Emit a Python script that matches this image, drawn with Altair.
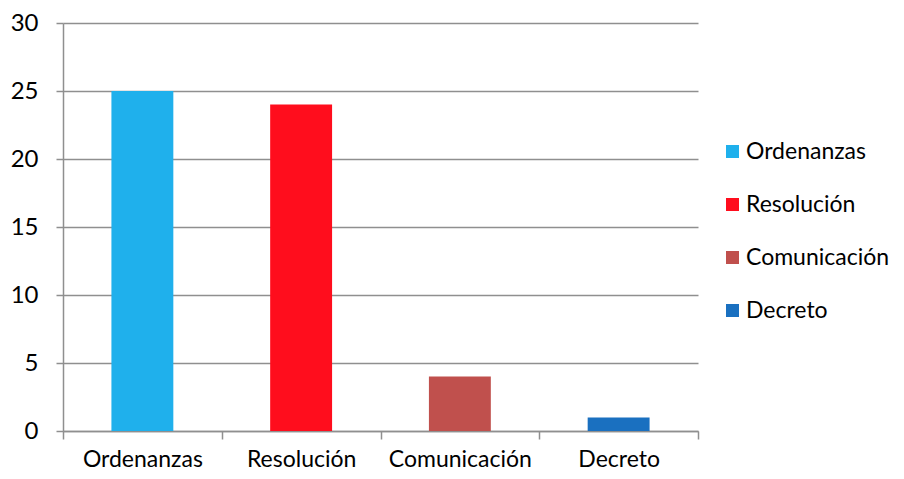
import altair as alt
import pandas as pd

categories = ["Ordenanzas", "Resolución", "Comunicación", "Decreto"]
values = [25, 24, 4, 1]
colors = ["#1FB0EC", "#FF0D1D", "#C0504D", "#1A70C0"]
y_ticks = [0, 5, 10, 15, 20, 25, 30]

df = pd.DataFrame({"Tipo": categories, "Cantidad": values})

FONT = "Lato"
GRID = "#8f8f8f"

bars = alt.Chart(df).mark_bar(width=alt.RelativeBandSize(0.39)).encode(
    x=alt.X(
        "Tipo:N",
        sort=categories,
        scale=alt.Scale(paddingInner=0, paddingOuter=0),
        axis=alt.Axis(
            title=None, labelAngle=0, tickBand="extent", grid=False,
            domainColor=GRID, domainWidth=1.5, tickColor=GRID, tickWidth=1.5,
            tickSize=8, labelPadding=9, labelFont=FONT, labelFontSize=23,
            labelColor="#000000",
        ),
    ),
    y=alt.Y(
        "Cantidad:Q",
        scale=alt.Scale(domain=[0, 30], nice=False),
        axis=alt.Axis(
            title=None, values=y_ticks, grid=True, gridColor=GRID, gridWidth=1.5,
            domainColor=GRID, domainWidth=1.5, tickColor=GRID, tickWidth=1.5,
            tickSize=7, labelPadding=18, labelFont=FONT, labelFontSize=24,
            labelColor="#000000",
        ),
    ),
    color=alt.Color(
        "Tipo:N",
        sort=categories,
        scale=alt.Scale(domain=categories, range=colors),
        legend=alt.Legend(
            title=None, orient="none", legendX=658, legendY=117,
            symbolType="square", symbolSize=169, symbolStrokeWidth=0,
            labelFont=FONT, labelFontSize=23, labelColor="#000000",
            labelOffset=2, rowPadding=29, labelLimit=300,
        ),
    ),
).properties(
    width=635,
    height=408,
    autosize=alt.AutoSizeParams(type="none"),
    padding={"left": 55, "top": 15, "right": 198, "bottom": 40},
).configure_view(stroke=None)

bars.save("out.html", embed_options={"renderer": "svg", "actions": False})
